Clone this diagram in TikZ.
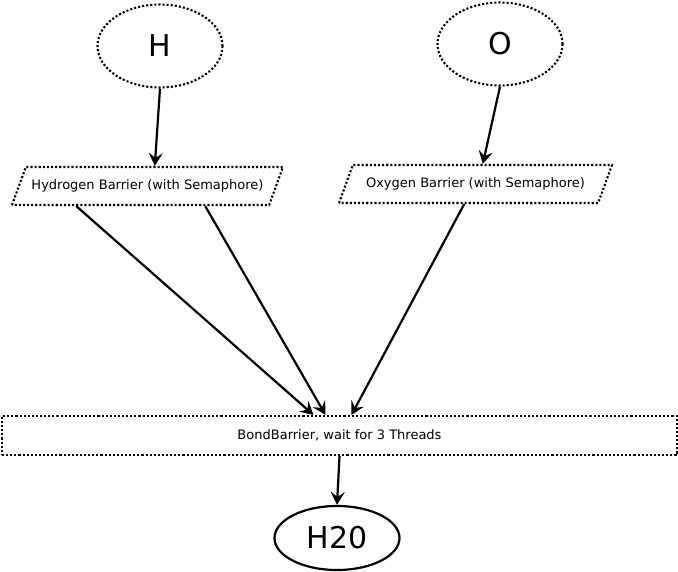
\documentclass[tikz,border=0pt]{standalone}
\usepackage{fontspec}
\setmainfont{DejaVu Sans}
\usetikzlibrary{shapes.geometric,arrows.meta}

\begin{document}
\begin{tikzpicture}[x=1pt, y=-1pt, every node/.style={font=\fontsize{13}{15}\selectfont}]
			% Styles
			\tikzstyle{dotted_line} = [draw=black, line width=2.1pt, dash pattern=on 2.1pt off 2pt]
			\tikzstyle{atom_node} = [ellipse, dotted_line, minimum width=125pt, minimum height=83pt, inner sep=0pt, font=\fontsize{30}{32}\selectfont]
			\tikzstyle{barrier_box} = [trapezium, trapezium left angle=70, trapezium right angle=110, trapezium stretches body=true, dotted_line, text height=9.5pt, text depth=3pt, inner xsep=0pt, inner ysep=12.75pt, minimum width=271pt]
			\tikzstyle{bond_box} = [rectangle, dotted_line, minimum width=675pt, minimum height=39pt, inner sep=0pt]
			\tikzstyle{result_node} = [ellipse, draw=black, line width=2.2pt, minimum width=125pt, minimum height=64pt, inner sep=0pt, font=\fontsize{30}{32}\selectfont]
			\tikzstyle{flow_arrow} = [-{Stealth[length=13pt, width=14pt, inset=5pt]}, line width=2.2pt, black]

			\useasboundingbox (0,0) rectangle (678,571);

			% Atoms (top)
			\node[atom_node] (h_atom) at (160, 46) {H};
			\node[atom_node] (o_atom) at (500, 44) {O};

			% Barriers
			\node[barrier_box] (h_barrier) at (147.5, 186) {Hydrogen Barrier (with Semaphore)};
			\node[barrier_box, minimum width=273pt] (o_barrier) at (475.5, 184) {Oxygen Barrier (with Semaphore)};

			% Bond barrier
			\node[bond_box] (bond_barrier) at (339.5, 435.5) {BondBarrier, wait for 3 Threads};

			% Result
			\node[result_node] (water) at (337, 538) {H20};

			% Arrows
			\draw[flow_arrow] (h_atom.south) -- (h_barrier.top side);
			\draw[flow_arrow] (o_atom.south) -- (o_barrier.top side);
			\draw[flow_arrow] ([xshift=-64pt]h_barrier.bottom side) -- ([xshift=-26pt]bond_barrier.north);
			\draw[flow_arrow] ([xshift=65pt]h_barrier.bottom side) -- ([xshift=-14pt]bond_barrier.north);
			\draw[flow_arrow] ([xshift=-4pt]o_barrier.bottom side) -- ([xshift=12pt]bond_barrier.north);
			\draw[flow_arrow] (bond_barrier.south) -- (water.north);

		\end{tikzpicture}
\end{document}
